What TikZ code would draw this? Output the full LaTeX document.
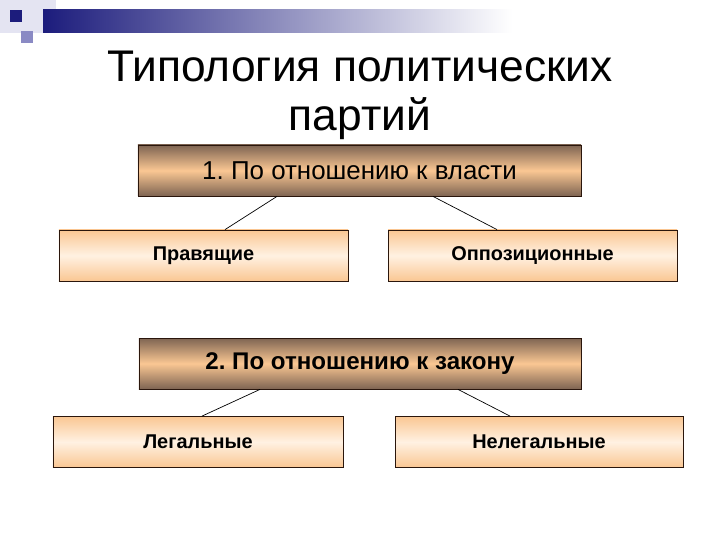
\documentclass[tikz,border=0pt]{standalone}
\usepackage{fontspec}
\setmainfont{Liberation Sans}
\frenchspacing
\definecolor{navy}{HTML}{1C1C7C}
\definecolor{lilac}{HTML}{8A8AC4}
\definecolor{palelilac}{HTML}{E4E4F2}
\definecolor{brown}{HTML}{7E6452}
\definecolor{peach}{HTML}{FAC793}
\definecolor{cream}{HTML}{FFF1E2}
\definecolor{edge}{HTML}{2A160C}
\begin{document}
\begin{tikzpicture}[x=1bp, y=-1bp]
    \useasboundingbox (0,0) rectangle (720,540);
    \begin{scope}[shift={(0,0)}]
        % header ornament
        \fill[palelilac] (0,0) rectangle (43,33);
        \fill[palelilac] (43,0) rectangle (56,22);
        \fill[lilac] (21,31) rectangle (33,43);
        \fill[navy] (10,10) rectangle (22,22);
        \shade[left color=navy, right color=white] (43,10) rectangle (512,33);

        \node (t1) [anchor=base, font=\fontsize{44.5}{50}\selectfont] at (360,82) {Типология политических};
        \node (t2) [anchor=base, font=\fontsize{44.5}{50}\selectfont] at (360,131) {партий};

        \begin{scope}[every node/.style={rectangle, draw=edge, line width=0.8bp, inner sep=0pt, minimum height=51bp, shading=axis, top color=brown, bottom color=brown, middle color=peach, font=\fontsize{26}{30}\selectfont}]
            \node (1) [minimum width=443bp] at (359.5,170.5) {1. По отношению к власти};
            \node (2) [minimum width=442bp, font=\fontsize{24.2}{28}\selectfont\bfseries] at (360,363.5) {2. По отношению к закону};
        \end{scope}

        \begin{scope}[every node/.style={rectangle, draw=edge, line width=0.8bp, inner sep=0pt, minimum height=51bp, minimum width=289bp, shading=axis, top color=peach, bottom color=peach, middle color=cream, font=\fontsize{20}{24}\selectfont\bfseries}]
            \node (1a) at (203.5,255.5) {Правящие};
            \node (1b) at (532.5,255.5) {Оппозиционные};
            \node (2a) [minimum width=290bp] at (198,442) {Легальные};
            \node (2b) [minimum width=288bp] at (539,442) {Нелегальные};
        \end{scope}

        \begin{scope}[every path/.style={draw, line width=0.7bp}]
            \path [-] ([xshift=-82.5bp]1.south) edge ([xshift=21.5bp]1a.north);
            \path [-] ([xshift=73.5bp]1.south) edge ([xshift=-35.5bp]1b.north);
            \path [-] ([xshift=-100bp]2.south) edge ([xshift=4bp]2a.north);
            \path [-] ([xshift=98bp]2.south) edge ([xshift=-29bp]2b.north);
        \end{scope}
    \end{scope}
\end{tikzpicture}
\end{document}
